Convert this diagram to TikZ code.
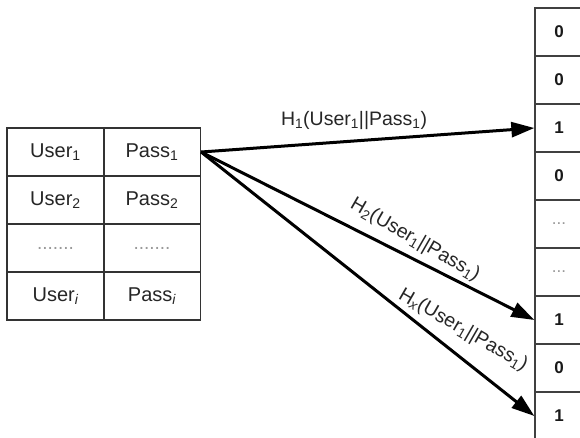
\documentclass[tikz,border=0pt]{standalone}
\usepackage{fontspec}
\setmainfont{Liberation Sans}
\usetikzlibrary{arrows.meta}
\newcommand\sbs[1]{\textsubscript{#1}}
\begin{document}
\begin{tikzpicture}[x=1pt,y=-1pt,
  cell/.style={draw=black!80, line width=1.3pt, minimum width=97pt,
    minimum height=48pt, inner sep=0pt, text=black!85,
    font=\fontsize{20}{23}\selectfont},
  bit/.style={draw=black!75, line width=1.3pt, minimum width=48pt,
    minimum height=48pt, inner sep=0pt, text=black!90,
    font=\fontsize{17}{20}\selectfont\bfseries},
  gap/.style={text=black!40, font=\fontsize{19}{22}\selectfont},
  hash/.style={-{Triangle[length=23pt,width=15pt]}, line width=3pt},
  lbl/.style={inner sep=0pt, text=black!85, font=\fontsize{19.5}{22}\selectfont}]
\useasboundingbox (0,0) rectangle (580,437);
\clip (0,0) rectangle (580,437);
\fill[white] (0,0) rectangle (580,437);

% user / password table
\node[cell] (u1) at (55.5,152) {\raisebox{-3pt}{User\sbs{1}}};
\node[cell] (p1) at (152,152) {\raisebox{-3pt}{Pass\sbs{1}}};
\node[cell] (u2) at (55.5,200) {User\sbs{2}};
\node[cell] (p2) at (152,200) {Pass\sbs{2}};
\node[cell, gap] (u3) at (55.5,248) {.......};
\node[cell, gap] (p3) at (152,248) {.......};
\node[cell] (u4) at (55.5,296) {\raisebox{-7pt}{User\sbs{\itshape i}}};
\node[cell] (p4) at (152,296) {\raisebox{2pt}{Pass\sbs{\itshape i}}};

% bit array
\foreach \v [count=\k] in {0,0,1,0,{\textcolor{black!40}{\mdseries...}},{\textcolor{black!40}{\mdseries...}},1,0,1}
  \node[bit] (b\k) at (559,{32+48*(\k-1)}) {\v};

% hash functions
\draw[hash] (p1.east) -- (b3.west);
\draw[hash] (p1.east) -- (b7.west);
\draw[hash] (p1.east) -- (b9.west);

\node[lbl] (l1) at (354,120) {H\sbs{1}(User\sbs{1}||Pass\sbs{1})};
\node[lbl, rotate=-30] (l2) at (415,240) {H\sbs{2}(User\sbs{1}||Pass\sbs{1})};
\node[lbl, rotate=-30] (l3) at (463,330) {H\sbs{\itshape x}(User\sbs{1}||Pass\sbs{1})};
\end{tikzpicture}
\end{document}
